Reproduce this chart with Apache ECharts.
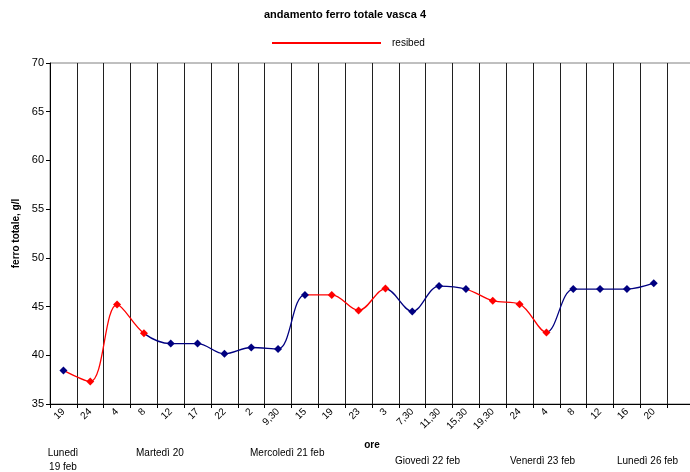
<!DOCTYPE html>
<html>
<head>
<meta charset="utf-8">
<script src="https://cdn.jsdelivr.net/npm/echarts@6/dist/echarts.min.js"></script>
<style>
  html, body { margin: 0; padding: 0; background: #fff; overflow: hidden; width: 690px; height: 472px; }
  /* il grafico originale è tagliato a destra: il contenitore è più largo della pagina */
  #chart { width: 700px; height: 472px; }
</style>
</head>
<body>
<div id="chart"></div>
<script>
// ore di campionamento (ultima categoria vuota)
const hours = ['19', '24', '4', '8', '12', '17', '22', '2', '9,30', '15', '19', '23', '3',
  '7,30', '11,30', '15,30', '19,30', '24', '4', '8', '12', '16', '20', '']
// ferro totale, g/l
const ferro = [38.45, 37.3, 45.2, 42.25, 41.2, 41.2, 40.15, 40.8, 40.65, 46.2, 46.2, 44.6,
  46.85, 44.5, 47.1, 46.8, 45.6, 45.25, 42.35, 46.8, 46.8, 46.8, 47.4]
// punti dopo resibed (rossi)
const resibed = [false, true, true, true, false, false, false, false, false, false, true, true,
  true, false, false, false, true, true, true, false, false, false, false]
const days = [
  { text: 'Lunedì\n19 feb', x: 63, y: 446, align: 'center' },
  { text: 'Martedì 20', x: 136, y: 446, align: 'left' },
  { text: 'Mercoledì 21 feb', x: 250, y: 446, align: 'left' },
  { text: 'Giovedì 22 feb', x: 395, y: 454, align: 'left' },
  { text: 'Venerdì 23 feb', x: 510, y: 454, align: 'left' },
  { text: 'Lunedì 26 feb', x: 617, y: 454, align: 'left' }
]

const RED = '#ff0000'
const BLUE = '#000080'
const FONT = '"Liberation Sans", Arial, sans-serif'

// il tratto che arriva al punto i prende il colore del punto i
const colorOf = (i) => (resibed[i] ? RED : BLUE)
const pieces = [{ lte: 0, color: colorOf(0) }]
for (let i = 1; i < ferro.length; i++) {
  pieces.push({ gt: i - 1, lte: i, color: colorOf(i) })
}
pieces.push({ gt: ferro.length - 1, color: colorOf(ferro.length - 1) })

const chart = echarts.init(document.getElementById('chart'))
chart.setOption({
  animation: false,
  textStyle: { fontFamily: FONT, color: '#000' },
  title: {
    text: 'andamento ferro totale vasca 4',
    left: 264,
    top: 9,
    padding: 0,
    textStyle: { fontSize: 11, fontWeight: 'bold', color: '#000', fontFamily: FONT }
  },
  legend: {
    left: 272,
    top: 38,
    padding: 0,
    itemWidth: 109,
    itemHeight: 2,
    data: [{ name: 'resibed', icon: 'rect', itemStyle: { color: RED } }],
    textStyle: { fontSize: 10, color: '#000', fontFamily: FONT, padding: [0, 0, 0, 6] }
  },
  grid: {
    left: 50,
    top: 63,
    right: 6,
    bottom: 68,
    containLabel: false,
    show: true,
    borderColor: '#808080',
    borderWidth: 1
  },
  visualMap: {
    type: 'piecewise',
    show: false,
    dimension: 0,
    seriesIndex: 0,
    pieces: pieces
  },
  xAxis: {
    type: 'category',
    data: hours,
    boundaryGap: true,
    name: 'ore',
    nameLocation: 'middle',
    nameGap: 36,
    nameTextStyle: { fontSize: 10, fontWeight: 'bold', color: '#000' },
    axisLine: { lineStyle: { color: '#000', width: 1 } },
    axisTick: { show: true, interval: 0, length: 4, lineStyle: { color: '#000' } },
    axisLabel: { interval: 0, rotate: 45, fontSize: 10, color: '#000', margin: 6 },
    splitLine: { show: true, interval: 0, lineStyle: { color: '#202020', width: 1 } }
  },
  yAxis: {
    type: 'value',
    min: 35,
    max: 70,
    interval: 5,
    name: 'ferro totale, g/l',
    nameLocation: 'middle',
    nameGap: 28,
    nameTextStyle: { fontSize: 10, fontWeight: 'bold', color: '#000' },
    axisLine: { show: true, lineStyle: { color: '#000', width: 1 } },
    axisTick: { show: true, length: 4, lineStyle: { color: '#000' } },
    axisLabel: { fontSize: 11, color: '#000', margin: 6 },
    splitLine: { show: false }
  },
  series: [{
    name: 'resibed',
    type: 'line',
    smooth: 0.35,
    symbol: 'diamond',
    symbolSize: 8,
    lineStyle: { width: 1.3 },
    data: ferro.map((v, i) => ({ value: v, itemStyle: { color: colorOf(i) } }))
  }],
  graphic: days.map((d) => ({
    type: 'text',
    style: {
      text: d.text,
      x: d.x,
      y: d.y,
      align: d.align,
      verticalAlign: 'top',
      font: '10px ' + FONT,
      lineHeight: 14,
      fill: '#000'
    }
  }))
})
</script>
</body>
</html>
